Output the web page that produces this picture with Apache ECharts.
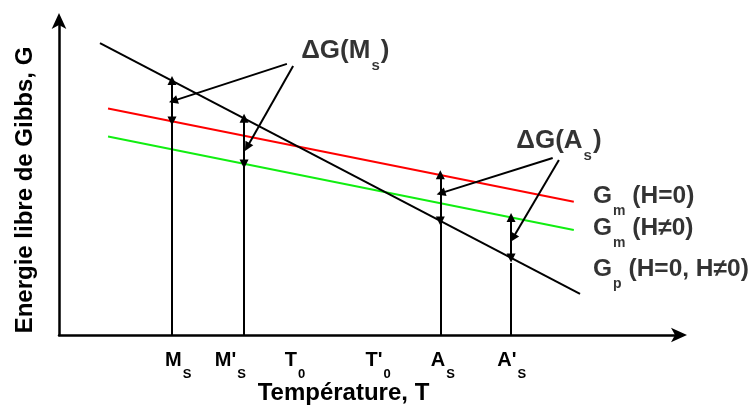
<!DOCTYPE html>
<html>
<head>
<meta charset="utf-8">
<script src="https://cdn.jsdelivr.net/npm/echarts@6/dist/echarts.min.js"></script>
<style>html,body{margin:0;padding:0;background:#fff;}#c{width:752px;height:409px;}</style>
</head>
<body>
<div id="c"></div>
<script>
// ---- data (schematic units, 0..100 on both axes) ----
const gpLine   = [[6.6, 92.4], [83.9, 13.0]];   // G_p (H=0, H≠0)
const gmH0Line = [[7.9, 71.7], [82.9, 42.2]];   // G_m (H=0)
const gmHLine  = [[7.9, 62.8], [82.9, 33.2]];   // G_m (H≠0)

const tickPos  = [19.2, 27.6, 38.0, 51.4, 61.8, 72.9];
const tickMain = ['M', "M'", 'T', "T'", 'A', "A'"];
const tickSub  = ['S', 'S', '0', '0', 'S', 'S'];

// verticals at Ms, M's, As, A's
const guideX    = [18.2, 29.8, 61.4, 72.8];
const guideBase = [67.7, 54.1, 36.1, 22.8];   // top of the plain part
const arrowLow  = [67.7, 54.1, 36.1, 24.4];
const arrowHigh = [80.5, 68.6, 50.7, 37.2];

// pointer arrows from the ΔG labels
const pointerFrom = [[36.7, 85.8], [37.7, 85.1], [79.5, 56.0], [80.5, 55.4]];
const pointerTo   = [[18.4, 74.1], [30.3, 59.5], [61.5, 44.9], [73.1, 30.7]];

const dgLabels = [
  { pos: [46.1, 88.4], main: 'ΔG(M', sub: 's' },
  { pos: [80.5, 59.9], main: 'ΔG(A', sub: 's' }
];
const curveLabels = [
  { pos: [86.0, 42.4], main: 'G', sub: 'm', rest: ' (H=0)' },
  { pos: [86.0, 32.3], main: 'G', sub: 'm', rest: ' (H≠0)' },
  { pos: [86.0, 19.3], main: 'G', sub: 'p', rest: ' (H=0, H≠0)' }
];

const FONT = '"Liberation Sans", Arial, sans-serif';

const chart = echarts.init(document.getElementById('c'), null, { renderer: 'canvas' });

const plainSegs = guideX.map((x, i) => ({ coords: [[x, 0], [x, guideBase[i]]] }));
const dblArrows = guideX.map((x, i) => ({ coords: [[x, arrowLow[i]], [x, arrowHigh[i]]] }));
const pointers  = pointerFrom.map((p, i) => ({ coords: [p, pointerTo[i]] }));

const richBig = {
  b: { fontSize: 26, fontWeight: 'bold', fontFamily: FONT, color: '#000', lineHeight: 26, verticalAlign: 'top' },
  s: { fontSize: 15, fontWeight: 'bold', fontFamily: FONT, color: '#000', lineHeight: 35.5, verticalAlign: 'bottom', padding: [0, 1, 0, 1] }
};
const richRight = {
  b: { fontSize: 24.5, fontWeight: 'bold', fontFamily: FONT, color: '#000', lineHeight: 25, verticalAlign: 'top' },
  s: { fontSize: 14, fontWeight: 'bold', fontFamily: FONT, color: '#000', lineHeight: 34.5, verticalAlign: 'bottom', padding: [0, 0, 0, 1] }
};

const option = {
  backgroundColor: '#fff',
  animation: false,
  grid: { left: 59, right: 72, top: 19, bottom: 74, containLabel: false, outerBoundsMode: 'none' },
  xAxis: {
    type: 'value', min: 0, max: 100,
    splitLine: { show: false },
    axisTick: { show: false },
    axisLine: { show: true, onZero: false, symbol: ['none', 'arrow'], symbolSize: [11, 16], symbolOffset: [0, 7],
      lineStyle: { color: '#000', width: 2.5 } },
    axisLabel: {
      show: true, customValues: tickPos, margin: 15,
      formatter: function (v) {
        let i = tickPos.findIndex(p => Math.abs(p - v) < 1e-6);
        if (i < 0) return '';
        return '{b|' + tickMain[i] + '}{s|' + tickSub[i] + '}';
      },
      rich: {
        b: { fontSize: 20, fontWeight: 'bold', fontFamily: FONT, color: '#000', lineHeight: 22, verticalAlign: 'top' },
        s: { fontSize: 13, fontWeight: 'bold', fontFamily: FONT, color: '#000', lineHeight: 31, verticalAlign: 'bottom', padding: [0, 0, 0, 1] }
      }
    },
    name: 'Température, T', nameLocation: 'middle', nameGap: 46, nameMoveOverlap: false,
    nameTextStyle: { fontSize: 24, fontWeight: 'bold', fontFamily: FONT, color: '#000', padding: [0, 52, 0, 0] }
  },
  yAxis: {
    type: 'value', min: 0, max: 100,
    splitLine: { show: false },
    axisTick: { show: false },
    axisLabel: { show: false },
    axisLine: { show: true, onZero: false, symbol: ['none', 'arrow'], symbolSize: [11, 16], symbolOffset: [0, 6],
      lineStyle: { color: '#000', width: 2.5 } },
    name: 'Energie libre de Gibbs, G', nameLocation: 'middle', nameGap: 22, nameMoveOverlap: false,
    nameTextStyle: { fontSize: 24, fontWeight: 'bold', fontFamily: FONT, color: '#000', padding: [0, 26, 0, 0] }
  },
  series: [
    { type: 'line', data: gmH0Line, symbol: 'none', lineStyle: { color: '#ff0000', width: 2 }, z: 2 },
    { type: 'line', data: gmHLine, symbol: 'none', lineStyle: { color: '#11ee11', width: 2 }, z: 2 },
    { type: 'line', data: gpLine, symbol: 'none', lineStyle: { color: '#000', width: 2 }, z: 3 },
    { type: 'lines', coordinateSystem: 'cartesian2d', data: plainSegs, symbol: ['none', 'none'],
      lineStyle: { color: '#000', width: 2, opacity: 1 }, z: 4 },
    { type: 'lines', coordinateSystem: 'cartesian2d', data: dblArrows, symbol: ['triangle', 'triangle'], symbolSize: 9,
      lineStyle: { color: '#000', width: 2, opacity: 1 }, z: 4 },
    { type: 'lines', coordinateSystem: 'cartesian2d', data: pointers, symbol: ['none', 'triangle'], symbolSize: 9,
      lineStyle: { color: '#000', width: 2, opacity: 1 }, z: 4 },
    { type: 'scatter', symbolSize: 0, silent: true, z: 5,
      data: dgLabels.map(d => ({ value: d.pos, main: d.main, sub: d.sub })),
      label: { show: true, position: 'inside',
        formatter: p => '{b|' + p.data.main + '}{s|' + p.data.sub + '}{b|)}', rich: richBig } },
    { type: 'scatter', symbolSize: 0, silent: true, z: 5,
      data: curveLabels.map(d => ({ value: d.pos, main: d.main, sub: d.sub, rest: d.rest })),
      label: { show: true, position: 'right', distance: 0,
        formatter: p => '{b|' + p.data.main + '}{s|' + p.data.sub + '}{b|' + p.data.rest + '}', rich: richRight } }
  ]
};
chart.setOption(option);
</script>
</body>
</html>
